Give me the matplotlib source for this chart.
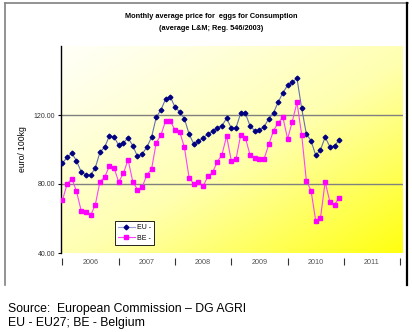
import numpy as np
import matplotlib
matplotlib.use('Agg')
import matplotlib.pyplot as plt
from matplotlib.lines import Line2D
from matplotlib.colors import LinearSegmentedColormap

plt.rcParams['font.family'] = ['Liberation Sans', 'DejaVu Sans']

# monthly prices, Jan 2006 - Dec 2010 (euro/100kg)
eu = [92.0, 95.5, 97.8, 93.5, 87.1, 85.2, 85.0, 89.3, 98.4, 101.3, 107.8, 107.4,
      102.4, 103.9, 106.7, 102.2, 96.0, 97.4, 101.3, 107.1, 118.7, 122.9, 129.3, 130.6,
      124.5, 121.9, 117.9, 109.0, 103.2, 104.9, 106.7, 109.0, 110.6, 112.6, 113.8, 118.0,
      112.5, 112.5, 121.0, 121.0, 113.6, 110.9, 111.3, 113.2, 117.9, 121.3, 127.5, 132.9,
      137.2, 139.1, 141.2, 123.9, 109.0, 105.1, 96.6, 99.7, 107.2, 101.6, 102.0, 105.7]
be = [70.5, 80.0, 83.1, 75.8, 64.5, 63.9, 61.8, 67.8, 81.3, 83.9, 90.4, 89.4,
      81.2, 86.2, 94.1, 81.3, 76.8, 78.1, 85.4, 88.5, 104.0, 108.3, 116.7, 116.5,
      111.3, 110.3, 101.3, 83.7, 80.0, 80.9, 78.6, 84.5, 86.7, 92.8, 96.9, 107.8,
      93.5, 94.3, 108.4, 106.8, 96.8, 95.2, 94.3, 94.7, 103.0, 110.9, 115.5, 118.7,
      106.1, 116.2, 127.3, 108.6, 81.9, 76.1, 58.6, 60.1, 81.2, 69.8, 68.0, 72.1]
years = ['2006', '2007', '2008', '2009', '2010', '2011']
yticks = [40, 80, 120]

W, H = 412, 332
fig = plt.figure(figsize=(W / 100, H / 100), dpi=100)

def fx(px):
    return px / W

def fy(py):
    return 1 - py / H

# outer chart frame
fig.add_artist(Line2D([fx(5), fx(5)], [fy(3), fy(285)], color='#808080', lw=1.2))
fig.add_artist(Line2D([fx(5), fx(408)], [fy(3), fy(3)], color='#808080', lw=1.2))
fig.add_artist(Line2D([fx(407), fx(407)], [fy(3), fy(285)], color='black', lw=1.6))

ax = fig.add_axes([fx(61), fy(253), fx(403 - 61), (253 - 46) / H])

# yellow gradient background
u = np.linspace(0, 1, 200)
v = np.linspace(0, 1, 200)
U, V = np.meshgrid(u, v)
T = (U + V) / 2
cmap = LinearSegmentedColormap.from_list('yl', ['#FFFFF8', '#FFFFB0', '#FFFF10'])
ax.imshow(T ** 1.1, cmap=cmap, extent=[0, 1, 0, 1], transform=ax.transAxes,
          aspect='auto', origin='upper', zorder=0, vmin=0, vmax=1)

x = np.arange(len(eu))
for g in [80, 120]:
    ax.axhline(g, color='#808080', lw=1.0, zorder=1)

ax.plot(x, eu, color='#6470B0', lw=0.8, marker='D', ms=2.4, mfc='#000080',
        mec='#000080', label='EU -', zorder=3)
ax.plot(x, be, color='#FF40FF', lw=0.8, marker='s', ms=3.3, mfc='#FF00FF',
        mec='#FF00FF', label='BE -', zorder=3)

ax.set_xlim(-0.3, 72.6)
ax.set_ylim(40, 160)
ax.set_yticks(yticks)
ax.set_yticklabels(['%.2f' % t for t in yticks], fontsize=5, color='#333333')
ax.tick_params(axis='y', length=2.5, width=0.8, pad=1.5)

ax.set_xticks(np.arange(0, 73, 12))
ax.set_xticklabels([])
ax.tick_params(axis='x', length=5, width=0.8, color='#333333')
ax.spines['bottom'].set_position(('outward', 3.6))
ax.spines['bottom'].set_color('none')
ax.spines['top'].set_visible(False)
ax.spines['right'].set_visible(False)
ax.spines['left'].set_linewidth(1.0)

for k, yr in enumerate(years):
    ax.text(6 + 12 * k, -(262 - 253) / 207, yr, transform=ax.get_xaxis_transform(),
            ha='center', va='center', fontsize=5.2, color='#555555')

ax.set_ylabel('euro/ 100kg', fontsize=6.2, labelpad=5)

leg = ax.legend(loc='lower left', bbox_to_anchor=(0.158, 0.039), fontsize=5,
                frameon=True, fancybox=False, edgecolor='black', framealpha=1,
                handlelength=2.4, handletextpad=0.3, borderpad=0.45,
                labelspacing=0.5, borderaxespad=0)
leg.get_frame().set_linewidth(0.6)
leg.get_lines()[0].set_color('#A0A0D8')

fig.text(fx(211), fy(17), 'Monthly average price for  eggs for Consumption',
         ha='center', va='center', fontsize=5.3, fontweight='bold')
fig.text(fx(211), fy(28), '(average L&M; Reg. 546/2003)',
         ha='center', va='center', fontsize=5.3, fontweight='bold')

fig.text(fx(8), fy(309), 'Source:  European Commission \u2013 DG AGRI',
         ha='left', va='center', fontsize=8.8)
fig.text(fx(8), fy(323), 'EU - EU27; BE - Belgium',
         ha='left', va='center', fontsize=8.8)

fig.savefig('out.png', dpi=100)
